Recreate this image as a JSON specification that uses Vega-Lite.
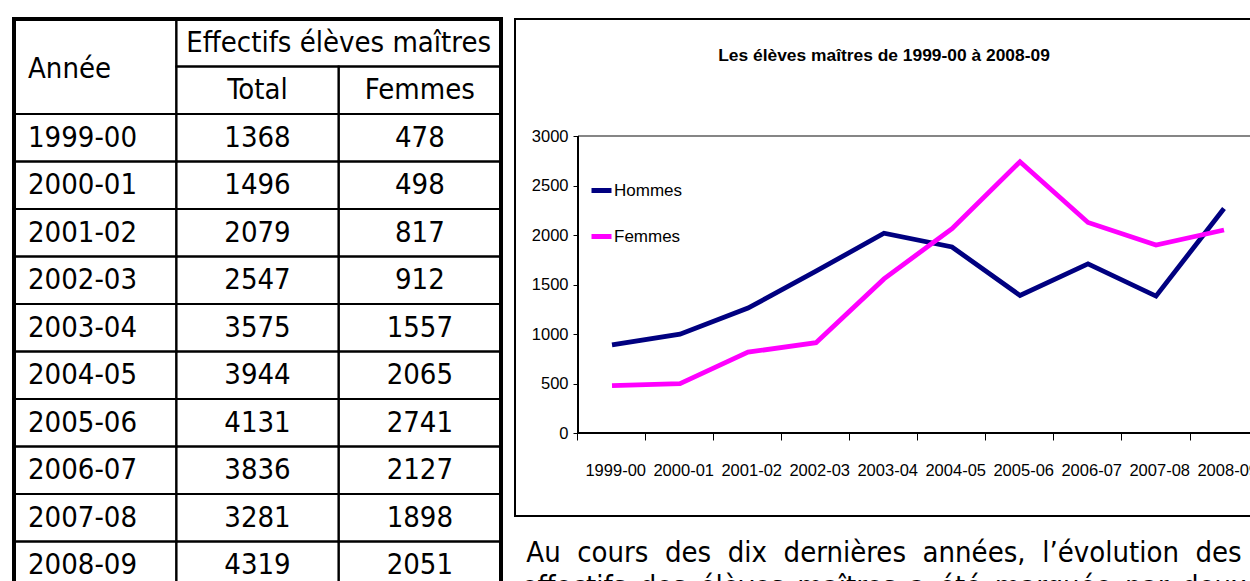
{
  "$schema": "https://vega.github.io/schema/vega-lite/v6.json",
  "padding": {"left": 11, "top": 16, "right": 0, "bottom": 0},
  "autosize": {"type": "pad"},
  "background": "white",
  "config": {"view": {"stroke": null}, "text": {"color": "black"}},
  "datasets": {
    "table": [
      {"Année": "1999-00", "Total": 1368, "Femmes": 478},
      {"Année": "2000-01", "Total": 1496, "Femmes": 498},
      {"Année": "2001-02", "Total": 2079, "Femmes": 817},
      {"Année": "2002-03", "Total": 2547, "Femmes": 912},
      {"Année": "2003-04", "Total": 3575, "Femmes": 1557},
      {"Année": "2004-05", "Total": 3944, "Femmes": 2065},
      {"Année": "2005-06", "Total": 4131, "Femmes": 2741},
      {"Année": "2006-07", "Total": 3836, "Femmes": 2127},
      {"Année": "2007-08", "Total": 3281, "Femmes": 1898},
      {"Année": "2008-09", "Total": 4319, "Femmes": 2051}
    ],
    "header": [
      {"label": "Année", "c1": "Année", "c2": "Année", "r1": "h1", "r2": "h2"},
      {"label": "Effectifs élèves maîtres", "c1": "Total", "c2": "Femmes", "r1": "h1", "r2": "h1"},
      {"label": "Total", "c1": "Total", "c2": "Total", "r1": "h2", "r2": "h2"},
      {"label": "Femmes", "c1": "Femmes", "c2": "Femmes", "r1": "h2", "r2": "h2"}
    ],
    "chart": [
      {"annee": "1999-00", "sexe": "Hommes", "effectif": 890},
      {"annee": "2000-01", "sexe": "Hommes", "effectif": 998},
      {"annee": "2001-02", "sexe": "Hommes", "effectif": 1262},
      {"annee": "2002-03", "sexe": "Hommes", "effectif": 1635},
      {"annee": "2003-04", "sexe": "Hommes", "effectif": 2018},
      {"annee": "2004-05", "sexe": "Hommes", "effectif": 1879},
      {"annee": "2005-06", "sexe": "Hommes", "effectif": 1390},
      {"annee": "2006-07", "sexe": "Hommes", "effectif": 1709},
      {"annee": "2007-08", "sexe": "Hommes", "effectif": 1383},
      {"annee": "2008-09", "sexe": "Hommes", "effectif": 2268},
      {"annee": "1999-00", "sexe": "Femmes", "effectif": 478},
      {"annee": "2000-01", "sexe": "Femmes", "effectif": 498},
      {"annee": "2001-02", "sexe": "Femmes", "effectif": 817},
      {"annee": "2002-03", "sexe": "Femmes", "effectif": 912},
      {"annee": "2003-04", "sexe": "Femmes", "effectif": 1557},
      {"annee": "2004-05", "sexe": "Femmes", "effectif": 2065},
      {"annee": "2005-06", "sexe": "Femmes", "effectif": 2741},
      {"annee": "2006-07", "sexe": "Femmes", "effectif": 2127},
      {"annee": "2007-08", "sexe": "Femmes", "effectif": 1898},
      {"annee": "2008-09", "sexe": "Femmes", "effectif": 2051}
    ],
    "para": [
      {"texte": "\u00a0Au\u00a0 cours\u00a0 des\u00a0 dix\u00a0 dernières\u00a0 années,\u00a0 l’évolution\u00a0 des\neffectifs\u2009 des\u2009 élèves\u2009 maîtres\u2009 a\u2009 été\u2009 marquée\u2009 par\u2009 deux"}
    ]
  },
  "spacing": 10,
  "hconcat": [
    {
      "width": 487,
      "height": 570,
      "view": {"stroke": "black", "strokeWidth": 4},
      "layer": [
        {
          "data": {"name": "table"},
          "transform": [{"fold": ["Année", "Total", "Femmes"], "as": ["col", "val"]}],
          "mark": {"type": "rect", "filled": false, "stroke": "black", "strokeWidth": 2},
          "encoding": {
            "x": {"field": "col", "type": "nominal", "scale": {"type": "band", "domain": ["Année", "Total", "Femmes"], "paddingInner": 0, "paddingOuter": 0}, "axis": null},
            "y": {"field": "Année", "type": "nominal", "scale": {"type": "band", "domain": ["h1", "h2", "1999-00", "2000-01", "2001-02", "2002-03", "2003-04", "2004-05", "2005-06", "2006-07", "2007-08", "2008-09"], "paddingInner": 0, "paddingOuter": 0}, "axis": null}
          }
        },
        {
          "data": {"name": "header"},
          "mark": {"type": "rect", "filled": false, "stroke": "black", "strokeWidth": 2},
          "encoding": {
            "x": {"field": "c1", "type": "nominal", "bandPosition": 0},
            "x2": {"field": "c2", "bandPosition": 1},
            "y": {"field": "r1", "type": "nominal", "bandPosition": 0},
            "y2": {"field": "r2", "bandPosition": 1}
          }
        },
        {
          "data": {"name": "table"},
          "mark": {"type": "text", "align": "left", "baseline": "middle", "dx": 14, "font": "DejaVu Sans Condensed", "fontSize": 29},
          "encoding": {
            "x": {"datum": "Année", "type": "nominal", "bandPosition": 0},
            "y": {"field": "Année", "type": "nominal", "bandPosition": 0.5},
            "text": {"field": "Année", "type": "nominal"}
          }
        },
        {
          "data": {"name": "table"},
          "mark": {"type": "text", "align": "center", "baseline": "middle", "font": "DejaVu Sans Condensed", "fontSize": 29},
          "encoding": {
            "x": {"datum": "Total", "type": "nominal", "bandPosition": 0.5},
            "y": {"field": "Année", "type": "nominal", "bandPosition": 0.5},
            "text": {"field": "Total", "type": "quantitative", "format": "d"}
          }
        },
        {
          "data": {"name": "table"},
          "mark": {"type": "text", "align": "center", "baseline": "middle", "font": "DejaVu Sans Condensed", "fontSize": 29},
          "encoding": {
            "x": {"datum": "Femmes", "type": "nominal", "bandPosition": 0.5},
            "y": {"field": "Année", "type": "nominal", "bandPosition": 0.5},
            "text": {"field": "Femmes", "type": "quantitative", "format": "d"}
          }
        },
        {
          "data": {"name": "header"},
          "transform": [{"filter": "datum.label === 'Année'"}],
          "mark": {"type": "text", "align": "left", "baseline": "middle", "dx": 14, "dy": 2, "font": "DejaVu Sans Condensed", "fontSize": 29},
          "encoding": {
            "x": {"field": "c1", "type": "nominal", "bandPosition": 0},
            "y": {"field": "r1", "type": "nominal", "bandPosition": 1},
            "text": {"field": "label", "type": "nominal"}
          }
        },
        {
          "data": {"name": "header"},
          "transform": [{"filter": "datum.label === 'Effectifs élèves maîtres'"}],
          "mark": {"type": "text", "align": "center", "baseline": "middle", "font": "DejaVu Sans Condensed", "fontSize": 29},
          "encoding": {
            "x": {"field": "c1", "type": "nominal", "bandPosition": 1},
            "y": {"field": "r1", "type": "nominal", "bandPosition": 0.5},
            "text": {"field": "label", "type": "nominal"}
          }
        },
        {
          "data": {"name": "header"},
          "transform": [{"filter": "datum.label === 'Total' || datum.label === 'Femmes'"}],
          "mark": {"type": "text", "align": "center", "baseline": "middle", "font": "DejaVu Sans Condensed", "fontSize": 29},
          "encoding": {
            "x": {"field": "c1", "type": "nominal", "bandPosition": 0.5},
            "y": {"field": "r1", "type": "nominal", "bandPosition": 0.5},
            "text": {"field": "label", "type": "nominal"}
          }
        }
      ]
    },
    {
      "spacing": 12,
      "vconcat": [
        {
          "width": 750,
          "height": 497,
          "view": {"stroke": "black", "strokeWidth": 2},
          "title": {"text": "Les élèves maîtres de 1999-00 à 2008-09", "font": "Liberation Sans", "fontSize": 17.4, "fontWeight": "bold", "color": "black", "offset": -45, "anchor": "middle", "dx": -6},
          "data": {"name": "chart"},
          "layer": [
            {
              "mark": {"type": "rule", "color": "#868686", "strokeWidth": 2},
              "encoding": {
                "x": {"datum": "1999-00", "type": "nominal", "bandPosition": 0},
                "x2": {"datum": "2008-09", "bandPosition": 1},
                "y": {"datum": 3000, "type": "quantitative"}
              }
            },
            {
              "mark": {"type": "rule", "color": "black", "strokeWidth": 1},
              "encoding": {
                "x": {"datum": "1999-00", "type": "nominal", "bandPosition": 0},
                "x2": {"datum": "2008-09", "bandPosition": 1},
                "y": {"datum": 0, "type": "quantitative"}
              }
            },
            {
              "mark": {"type": "rule", "color": "black", "strokeWidth": 1},
              "encoding": {
                "x": {"datum": "1999-00", "type": "nominal", "bandPosition": 0},
                "y": {"datum": 0, "type": "quantitative"},
                "y2": {"datum": 3000}
              }
            },
            {
              "mark": {"type": "line", "strokeWidth": 4.8},
              "encoding": {
                "x": {
                  "field": "annee", "type": "nominal", "bandPosition": 0.5,
                  "scale": {"type": "band", "domain": ["1999-00", "2000-01", "2001-02", "2002-03", "2003-04", "2004-05", "2005-06", "2006-07", "2007-08", "2008-09"], "paddingInner": 0, "paddingOuter": 0.5147, "align": 0.9},
                  "axis": {"orient": "bottom", "offset": -83, "bandPosition": 0, "labelOffset": 34, "domain": false, "grid": false, "ticks": true, "tickSize": 7, "tickColor": "black", "tickWidth": 1, "labelAngle": 0, "labelFont": "Liberation Sans", "labelFontSize": 16.5, "labelColor": "black", "labelPadding": 30, "labelOverlap": false, "title": null}
                },
                "y": {
                  "field": "effectif", "type": "quantitative",
                  "scale": {"domain": [-838, 4182], "nice": false, "zero": false},
                  "axis": {"orient": "left", "offset": -63, "values": [0, 500, 1000, 1500, 2000, 2500, 3000], "format": "d", "domain": false, "grid": false, "tickSize": 5, "tickColor": "black", "labelFont": "Liberation Sans", "labelFontSize": 16.5, "labelColor": "black", "labelPadding": 5, "title": null}
                },
                "color": {
                  "field": "sexe", "type": "nominal",
                  "scale": {"domain": ["Hommes", "Femmes"], "range": ["#000080", "#FF00FF"]},
                  "legend": {"orient": "none", "legendX": 575, "legendY": 159, "title": null, "symbolType": "stroke", "symbolSize": 400, "symbolStrokeWidth": 5, "labelFont": "Liberation Sans", "labelFontSize": 17, "labelColor": "black", "rowPadding": 23, "labelOffset": 0}
                }
              }
            }
          ]
        },
        {
          "width": 738,
          "height": 20,
          "data": {"name": "para"},
          "mark": {"type": "text", "align": "center", "baseline": "top", "font": "DejaVu Sans Condensed", "fontSize": 29, "lineBreak": "\n", "lineHeight": 34},
          "encoding": {"text": {"field": "texte", "type": "nominal"}}
        }
      ]
    }
  ]
}
